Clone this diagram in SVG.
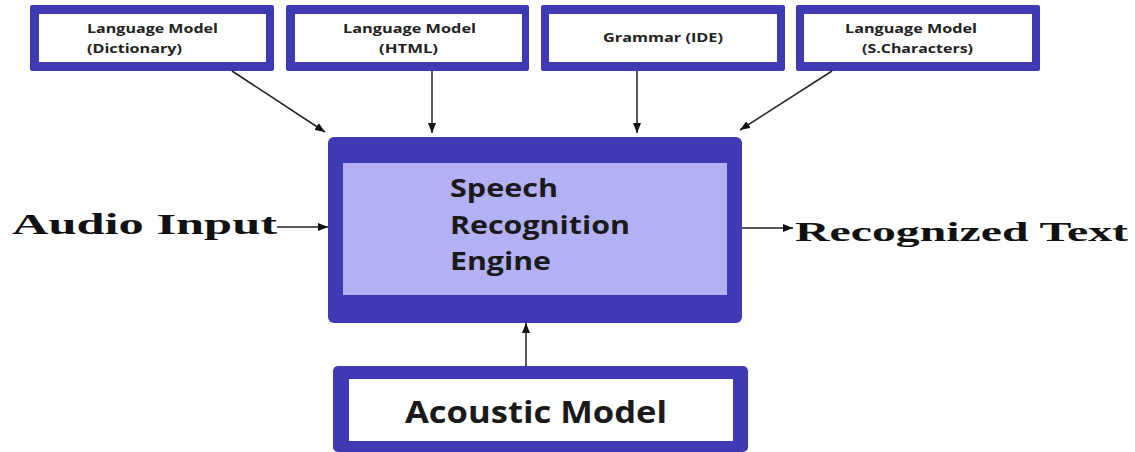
<svg xmlns="http://www.w3.org/2000/svg" width="1135" height="452" viewBox="0 0 1135 452">
<style>
.outer{fill:#3F3AB4}
.inner{fill:#ffffff}
.light{fill:#B3B1F3}
.small{font-family:"Open Sans","Liberation Sans",sans-serif;font-weight:700;font-size:13px;fill:#222}
.big{font-family:"Open Sans","Liberation Sans",sans-serif;font-weight:700;font-size:25px;fill:#1a1a1a}
.serif{font-family:"Liberation Serif","DejaVu Serif",serif;font-weight:700;font-size:29px;fill:#111}
.conn{stroke:#222;stroke-width:1.5;fill:none}
</style>
<defs>
<marker id="ah" viewBox="0 0 10 8" refX="10" refY="4" markerWidth="10" markerHeight="8" markerUnits="userSpaceOnUse" orient="auto">
<path d="M0,0 L10,4 L0,8 Z" fill="#111"/>
</marker>
</defs>
<rect width="1135" height="452" fill="#ffffff"/>
<g id="lm-dictionary">
<rect class="outer" x="30" y="5" width="244" height="66" rx="2"/>
<rect class="inner" x="39" y="14" width="227" height="48"/>
<text class="small" x="87" y="33" textLength="131" lengthAdjust="spacingAndGlyphs">Language Model</text>
<text class="small" x="87" y="53" textLength="95" lengthAdjust="spacingAndGlyphs">(Dictionary)</text>
</g>
<g id="lm-html">
<rect class="outer" x="286" y="5" width="243" height="66" rx="2"/>
<rect class="inner" x="295" y="14" width="227" height="48"/>
<text class="small" x="343" y="33" textLength="133" lengthAdjust="spacingAndGlyphs">Language Model</text>
<text class="small" x="379" y="53" textLength="59" lengthAdjust="spacingAndGlyphs">(HTML)</text>
</g>
<g id="grammar-ide">
<rect class="outer" x="541" y="5" width="244" height="66" rx="2"/>
<rect class="inner" x="549" y="14" width="228" height="48"/>
<text class="small" x="603" y="42" textLength="120" lengthAdjust="spacingAndGlyphs">Grammar (IDE)</text>
</g>
<g id="lm-schars">
<rect class="outer" x="796" y="5" width="244" height="66" rx="2"/>
<rect class="inner" x="804" y="14" width="228" height="48"/>
<text class="small" x="845" y="33" textLength="132" lengthAdjust="spacingAndGlyphs">Language Model</text>
<text class="small" x="862" y="53" textLength="111" lengthAdjust="spacingAndGlyphs">(S.Characters)</text>
</g>
<g id="engine">
<rect class="outer" x="328" y="137" width="414" height="186" rx="6"/>
<rect class="light" x="343" y="163" width="384" height="132"/>
<text class="big" x="450" y="197" textLength="108" lengthAdjust="spacingAndGlyphs">Speech</text>
<text class="big" x="450" y="234" textLength="180" lengthAdjust="spacingAndGlyphs">Recognition</text>
<text class="big" x="450" y="270" textLength="101" lengthAdjust="spacingAndGlyphs">Engine</text>
</g>
<g id="acoustic">
<rect class="outer" x="333" y="366" width="415" height="86" rx="5"/>
<rect class="inner" x="349" y="379" width="384" height="62"/>
<text class="big" x="405" y="423" style="font-size:30px" textLength="262" lengthAdjust="spacingAndGlyphs">Acoustic Model</text>
</g>
<g id="audio-input">
<text class="serif" x="12" y="234" textLength="265" lengthAdjust="spacingAndGlyphs">Audio Input</text>
</g>
<g id="recognized-text">
<text class="serif" x="795" y="241" style="font-size:28px" textLength="333" lengthAdjust="spacingAndGlyphs">Recognized Text</text>
</g>
<g id="connectors">
<line class="conn" x1="232" y1="71" x2="325" y2="132" marker-end="url(#ah)"/>
<line class="conn" x1="432" y1="71" x2="432" y2="133" marker-end="url(#ah)"/>
<line class="conn" x1="637" y1="71" x2="637" y2="133" marker-end="url(#ah)"/>
<line class="conn" x1="832" y1="71" x2="740" y2="130" marker-end="url(#ah)"/>
<line class="conn" x1="277" y1="227" x2="328" y2="227" marker-end="url(#ah)"/>
<line class="conn" x1="742" y1="228" x2="793" y2="228" marker-end="url(#ah)"/>
<line class="conn" x1="526" y1="366" x2="526" y2="323" marker-end="url(#ah)"/>
</g>
</svg>
